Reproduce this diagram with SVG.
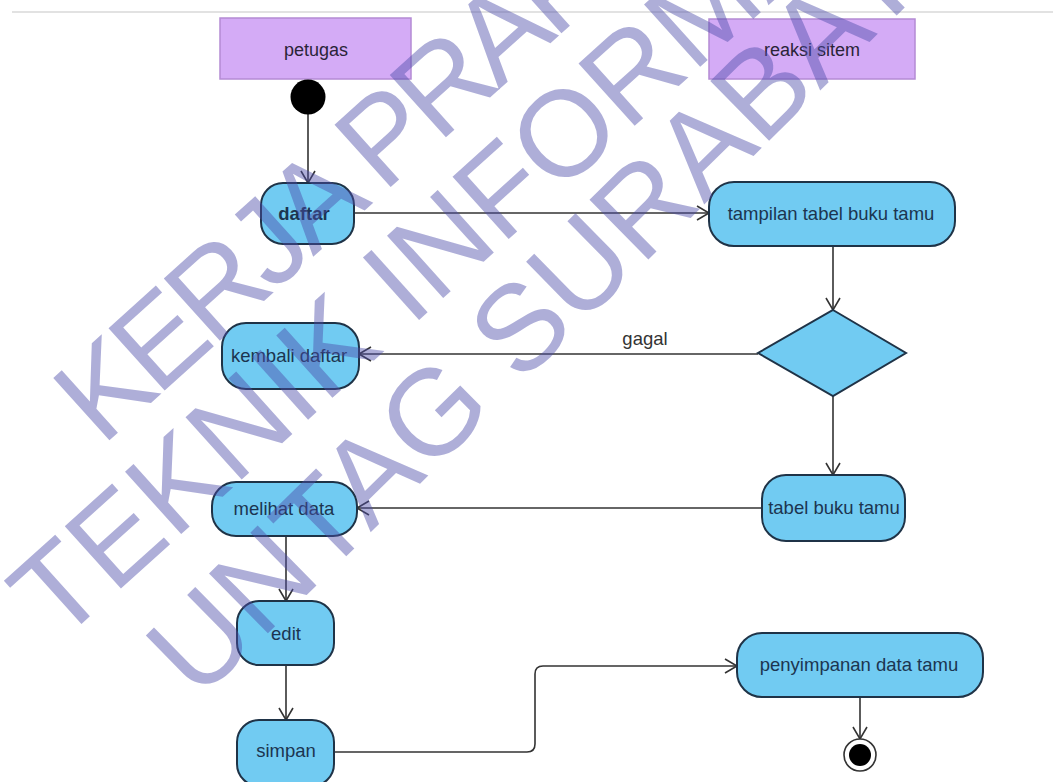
<svg xmlns="http://www.w3.org/2000/svg" width="1053" height="782" viewBox="0 0 1053 782">
<defs>
<style>
.node{fill:#71cbf2;stroke:#1f3347;stroke-width:2}
.lane{fill:#d4abf6;stroke:#b48bd4;stroke-width:1.5}
.lbl{font-family:"Liberation Sans",Arial,sans-serif;font-size:18.5px;fill:#1c3550;text-anchor:middle}
.hdr{font-family:"Liberation Sans",Arial,sans-serif;font-size:18px;fill:#2a2438;text-anchor:middle}
.edge{fill:none;stroke:#333;stroke-width:1.6}
.wm{font-family:"Liberation Sans",Arial,sans-serif;font-size:122px;fill:#4b4ba8;fill-opacity:0.45}
</style>
<marker id="arr" markerUnits="userSpaceOnUse" markerWidth="16" markerHeight="18" refX="13" refY="8" orient="auto">
<path d="M1,1 L13,8 L1,15" fill="none" stroke="#333" stroke-width="1.6"/>
</marker>
</defs>
<rect width="1053" height="782" fill="#ffffff"/>
<line x1="12" y1="12" x2="1053" y2="12" stroke="#e2e2e2" stroke-width="2"/>

<g id="lane-petugas">
<rect class="lane" x="220" y="18" width="191" height="61"/>
<text class="hdr" x="316" y="56">petugas</text>
</g>
<g id="lane-reaksi">
<rect class="lane" x="709" y="19" width="206" height="60"/>
<text class="hdr" x="812" y="56">reaksi sitem</text>
</g>

<g id="connectors">
<line class="edge" x1="308" y1="114" x2="308" y2="183" marker-end="url(#arr)"/>
<line class="edge" x1="354" y1="213" x2="709" y2="213" marker-end="url(#arr)"/>
<line class="edge" x1="833" y1="246" x2="833" y2="310" marker-end="url(#arr)"/>
<line class="edge" x1="758" y1="354" x2="359" y2="354" marker-end="url(#arr)"/>
<line class="edge" x1="833" y1="396" x2="833" y2="475" marker-end="url(#arr)"/>
<line class="edge" x1="762" y1="508" x2="357" y2="508" marker-end="url(#arr)"/>
<line class="edge" x1="286" y1="536" x2="286" y2="601" marker-end="url(#arr)"/>
<line class="edge" x1="286" y1="665" x2="286" y2="720" marker-end="url(#arr)"/>
<path class="edge" d="M334,752 H527 Q535,752 535,744 V674 Q535,666 543,666 H737" marker-end="url(#arr)"/>
<line class="edge" x1="860" y1="697" x2="860" y2="739" marker-end="url(#arr)"/>
<text class="lbl" x="645" y="345" style="fill:#333">gagal</text>
</g>

<g id="start">
<circle cx="308" cy="97" r="17.5" fill="#000"/>
</g>
<g id="daftar">
<rect class="node" x="261" y="183" width="93" height="61" rx="22"/>
<text class="lbl" x="304" y="220" font-weight="bold">daftar</text>
</g>
<g id="tampilan">
<rect class="node" x="709" y="182" width="246" height="64" rx="25"/>
<text class="lbl" x="831" y="220">tampilan tabel buku tamu</text>
</g>
<g id="decision">
<polygon class="node" points="833,310 906,353 833,396 758,353"/>
</g>
<g id="kembali">
<rect class="node" x="222" y="323" width="137" height="66" rx="24"/>
<text class="lbl" x="289" y="362">kembali daftar</text>
</g>
<g id="tabel">
<rect class="node" x="762" y="475" width="143" height="66" rx="24"/>
<text class="lbl" x="834" y="514">tabel buku tamu</text>
</g>
<g id="melihat">
<rect class="node" x="212" y="482" width="145" height="54" rx="24"/>
<text class="lbl" x="284" y="515">melihat data</text>
</g>
<g id="edit">
<rect class="node" x="237" y="601" width="97" height="64" rx="22"/>
<text class="lbl" x="286" y="640">edit</text>
</g>
<g id="simpan">
<rect class="node" x="237" y="720" width="97" height="66" rx="22"/>
<text class="lbl" x="286" y="757">simpan</text>
</g>
<g id="penyimpanan">
<rect class="node" x="737" y="633" width="246" height="64" rx="25"/>
<text class="lbl" x="859" y="671">penyimpanan data tamu</text>
</g>
<g id="end">
<circle cx="860" cy="755" r="16" fill="#fff" stroke="#333" stroke-width="1.6"/>
<circle cx="860" cy="755" r="11" fill="#000"/>
</g>

<g id="watermark">
<text class="wm" transform="translate(102,447) rotate(-42)" letter-spacing="-7">KERJA PRAKTEK</text>
<text class="wm" transform="translate(58,645) rotate(-42)">TEKNIK INFORMATIKA</text>
<text class="wm" transform="translate(198,702) rotate(-44.5)">UNTAG SURABAYA</text>
</g>
</svg>
